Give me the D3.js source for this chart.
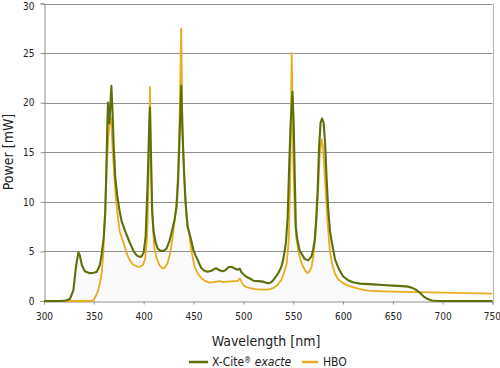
<!DOCTYPE html>
<html>
<head>
<meta charset="utf-8">
<script src="https://cdn.jsdelivr.net/npm/d3@7"></script>
<style>
html,body{margin:0;padding:0;background:#fff;}
svg{display:block;}
text{font-family:"DejaVu Sans Condensed","DejaVu Sans",sans-serif;fill:#222;}
</style>
</head>
<body>
<svg id="c" width="500" height="368"></svg>
<script>
// ---- data ----
const xTicks = [300,350,400,450,500,550,600,650,700,750];
const yTicks = [0,5,10,15,20,25,30];
const seriesNames = ["X-Cite® exacte","HBO"];

const xciteNm = [300,316,322,326,329.5,332,334.5,336,338,341,346,350,353,356,358,360,361.5,362.5,363.5,364.2,365.5,366.5,367.6,368.6,370,371.5,373.5,376,378,382,386,390,393,396,398,400,402,404,405.5,406.3,407.3,408.5,410,412,414,417,420,423,426,428,431,433,434.5,436,437.7,439,440.5,442,444,446,448,450,452,454,456,458,461,464,468,471,473,476,479,482,485,488,491,494,496.5,498,500,503,507,510,515,520,523,525,528,530,533,535,538,540,542.7,544.5,546,547.5,549.3,550.5,551.5,552.7,554,556.5,561.5,565,568.4,570,571.7,573,574.5,576,577.5,579,580.5,582,583.5,585,587,589,592,596,600,605,610,617,630,640,650,660,665,669,673,677,681,685,689,695,750];
const xciteMw = [0,0,0.05,0.2,1.1,3.4,4.9,4.6,3.6,3.0,2.8,2.85,2.95,3.6,4.8,6.5,9,13,17.5,20.0,17.9,19.5,21.7,19.5,15.5,12.5,10.6,9.0,8.0,6.9,5.9,5.0,4.6,4.45,4.5,4.9,6.5,12,17.5,19.5,15,9,7.0,5.9,5.3,5.05,5.05,5.3,6.1,6.9,8.2,9.5,12,16.5,21.7,17,13,10,7.5,6.8,6.0,5.1,4.6,4.2,3.7,3.3,3.05,2.95,3.05,3.25,3.3,3.1,3.0,3.1,3.4,3.45,3.3,3.15,3.25,2.9,2.7,2.45,2.25,2.05,2.0,1.95,1.85,1.8,1.9,2.1,2.5,2.8,3.4,4.15,5.85,8.5,13.6,18,21.1,18,13,7.5,6.3,5.1,4.25,4.1,4.5,5.2,6.2,8,11,15.5,18,18.4,18.0,16,12.5,9.5,7.0,5.8,4.2,3.2,2.5,2.1,1.9,1.75,1.68,1.62,1.55,1.5,1.45,1.35,1.15,0.85,0.45,0.2,0.05,0,0];

const hboNm = [300,346,349.5,352,354.5,356.5,358,359.6,361,362.5,364.5,366.5,367.5,368.5,370.3,372,373.6,376,378,380,383,386,389.7,393,396.4,399,401.4,403,404,405.2,406.3,407.3,408.5,409.5,411,413,416,418.8,421,424,427,429.5,431.5,433,434.5,436,437.7,439,441,443,446,448,451,454,458,462,466,470,476,480,484,490,494,496.6,498,500,503,507,512,517,523,527,531,534,538,541,543.5,545.5,547,548.5,550,551.7,553,555,557.5,560,562.5,564.5,566.5,568.4,570,571.7,573.5,575,576.5,578.5,580,581.5,583,584.5,586.7,589,591.7,595,600,605,610,617,625,640,660,700,750];
const hboMw = [0,0,0.05,0.5,1.1,2.0,2.9,5.0,8.5,12.5,16.5,18.6,18.3,16,12.9,10.5,8.9,7.0,6.4,5.8,4.8,4.1,3.65,3.5,3.45,3.6,4.2,5.8,8.2,14,21.6,14,10,7,5.2,4.3,3.6,3.3,3.35,3.8,5.0,6.8,8.5,10,13,18,27.5,17,12,8.5,6.5,5,3.5,2.8,2.3,2.0,1.85,1.9,2.0,1.9,1.95,2.0,2.0,2.25,1.95,1.6,1.4,1.3,1.2,1.15,1.15,1.2,1.35,1.6,2.1,2.9,3.8,6,12,25.0,15,8.5,6.5,5.15,4.1,3.45,3.0,2.8,3.0,3.45,4.3,5.85,8.5,11,14.5,16.3,15.5,13,10.5,8,5.15,3.8,2.8,2.2,1.8,1.55,1.4,1.2,1.05,0.98,0.93,0.85,0.75];

const colors = {xcite:"#5c700c", hbo:"#e7ad1e"};

// ---- chart ----
const svg = d3.select("#c");
const x = d3.scaleLinear().domain([300,750]).range([44,492.5]);
const y = d3.scaleLinear().domain([0,30]).range([301,3.5]);

const xc = xciteNm.map((d,i)=>({x:d,y:xciteMw[i]}));
const hb = hboNm.map((d,i)=>({x:d,y:hboMw[i]}));

// faint fill under curves
const area = d3.area().x(d=>x(d.x)).y0(y(0)).y1(d=>y(d.y));
svg.append("path").datum(xc).attr("d",area).attr("fill","#fafafa");

// gridlines
svg.append("g").selectAll("line").data(yTicks.filter(d=>d>0)).join("line")
  .attr("x1",x(300)).attr("x2",x(750))
  .attr("y1",d=>Math.round(y(d))+0.5).attr("y2",d=>Math.round(y(d))+0.5)
  .attr("stroke","#8f8f8f").attr("stroke-width",1);
// right border
svg.append("line").attr("x1",Math.round(x(750))+0.5).attr("x2",Math.round(x(750))+0.5)
  .attr("y1",y(30)).attr("y2",y(0)).attr("stroke","#b5b5b5");

// axes
const xAxis = d3.axisBottom(x).tickValues(xTicks).tickSize(3).tickPadding(8).tickFormat(d3.format("d"));
const gx = svg.append("g").attr("transform",`translate(0,${Math.round(y(0))+0.5})`).call(xAxis);
const yAxis = d3.axisLeft(y).tickValues(yTicks).tickSize(4).tickPadding(6);
const gy = svg.append("g").attr("transform",`translate(${Math.round(x(300))+0.5},0)`).call(yAxis);
[gx,gy].forEach(g=>{
  g.select(".domain").attr("stroke","#8f8f8f");
  g.selectAll(".tick line").attr("stroke","#8f8f8f");
  g.selectAll(".tick text").attr("font-size","10px").attr("fill","#222")
   .attr("font-family",'"DejaVu Sans Condensed","DejaVu Sans",sans-serif');
});
// keep end labels inside the picture
gx.selectAll(".tick text").filter(d=>d===750).attr("text-anchor","end").attr("dx","8");
gy.selectAll(".tick text").filter(d=>d===30).attr("dy","0.6em");

// lines
const line = d3.line().x(d=>x(d.x)).y(d=>y(d.y));
svg.append("path").datum(hb).attr("d",line).attr("fill","none")
  .attr("stroke",colors.hbo).attr("stroke-width",1.8).attr("stroke-linejoin","round");
svg.append("path").datum(xc).attr("d",line).attr("fill","none")
  .attr("stroke",colors.xcite).attr("stroke-width",2.1).attr("stroke-linejoin","round");

// axis titles
svg.append("text").attr("x",266).attr("y",346).attr("text-anchor","middle")
  .attr("font-size","14px").text("Wavelength [nm]");
svg.append("text").attr("transform","translate(13,152) rotate(-90)").attr("text-anchor","middle")
  .attr("font-size","14px").text("Power [mW]");

// legend
const lg = svg.append("g");
lg.append("line").attr("x1",189).attr("x2",208).attr("y1",362).attr("y2",362)
  .attr("stroke",colors.xcite).attr("stroke-width",2.5);
const t1 = lg.append("text").attr("x",212).attr("y",366).attr("font-size","12px");
t1.append("tspan").text("X-Cite");
t1.append("tspan").attr("font-size","8px").attr("dy",-3).text("®");
t1.append("tspan").attr("dy",3).text(" ");
t1.append("tspan").attr("font-style","italic").text("exacte");
lg.append("line").attr("x1",302).attr("x2",318).attr("y1",362).attr("y2",362)
  .attr("stroke",colors.hbo).attr("stroke-width",2.5);
lg.append("text").attr("x",323).attr("y",366).attr("font-size","12px").text(seriesNames[1]);
</script>
</body>
</html>
